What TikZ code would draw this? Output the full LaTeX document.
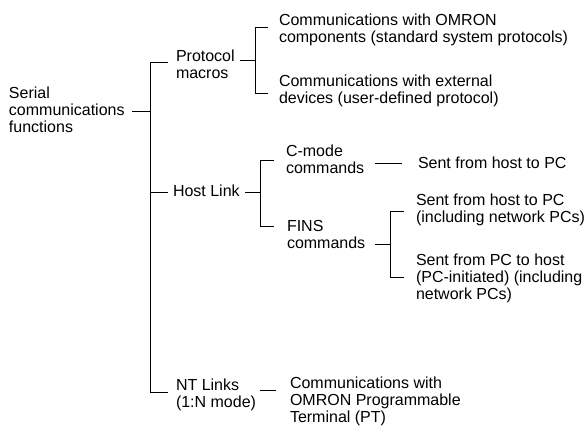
\documentclass[tikz,border=0pt]{standalone}
\usepackage{fontspec}
\setmainfont{Liberation Sans}
\begin{document}
\begin{tikzpicture}[x=1pt,y=-1pt,
  every node/.style={inner sep=0pt, outer sep=0pt, anchor=base west, align=left,
    font=\fontsize{16}{17}\selectfont},
  link/.style={line width=0.9pt, black}]
\useasboundingbox (0,0) rectangle (585,429);
% texts (anchor = baseline of the last line)
\node (serial) at (9,132) {Serial\\communications\\functions};
\node (proto) at (176,78.7) {Protocol\\macros};
\node (omc) at (279,42) {Communications with OMRON\\components (standard system protocols)};
\node (ext) at (279,103.7) {Communications with external\\devices (user-defined protocol)};
\node (host) at (173,196.7) {Host Link};
\node (cmode) at (286,173.7) {C-mode\\commands};
\node (sentA) at (418,168) {Sent from host to PC};
\node (fins) at (287,248) {FINS\\commands};
\node (sentB) at (416,222) {Sent from host to PC\\(including network PCs)};
\node (sentC) at (416,299) {Sent from PC to host\\(PC-initiated) (including\\network PCs)};
\node (nt) at (176,407) {NT Links\\(1:N mode)};
\node (ptterm) at (290,422) {Communications with\\OMRON Programmable\\Terminal (PT)};
% main trunk
\coordinate (s0) at (132,111.7);
\coordinate (j0) at (150.5,111.7);
\coordinate (tA) at (150.5,62.7);  \coordinate (aA) at (168,62.7);
\coordinate (tB) at (150.5,192.7); \coordinate (aB) at (168,192.7);
\coordinate (tC) at (150.5,392.7); \coordinate (aC) at (168,392.7);
\draw[link] (s0) -- (j0);
\draw[link] (aA) -- (tA) -- (tC) -- (aC);
\draw[link] (tB) -- (aB);
% protocol bracket
\coordinate (ps) at (240,60.3); \coordinate (pj) at (255,60.3);
\coordinate (pt1) at (255,27.3); \coordinate (pa1) at (268,27.3);
\coordinate (pt2) at (255,93.3); \coordinate (pa2) at (268,93.3);
\draw[link] (ps) -- (pj);
\draw[link] (pa1) -- (pt1) -- (pt2) -- (pa2);
% host bracket
\coordinate (hs) at (245,192.7); \coordinate (hj) at (260.5,192.7);
\coordinate (ht1) at (260.5,160.5); \coordinate (ha1) at (274,160.5);
\coordinate (ht2) at (260.5,226.5); \coordinate (ha2) at (274,226.5);
\draw[link] (hs) -- (hj);
\draw[link] (ha1) -- (ht1) -- (ht2) -- (ha2);
% C-mode stub
\coordinate (cs) at (375,163.3); \coordinate (ce) at (401.7,163.3);
\draw[link] (cs) -- (ce);
% FINS bracket
\coordinate (fs) at (375,244.5); \coordinate (fj) at (390.7,244.5);
\coordinate (ft1) at (390.7,211); \coordinate (fa1) at (403.5,211);
\coordinate (ft2) at (390.7,277); \coordinate (fa2) at (403.5,277);
\draw[link] (fs) -- (fj);
\draw[link] (fa1) -- (ft1) -- (ft2) -- (fa2);
% NT stub
\coordinate (ns) at (260,390.7); \coordinate (ne) at (276,390.7);
\draw[link] (ns) -- (ne);
\end{tikzpicture}
\end{document}
